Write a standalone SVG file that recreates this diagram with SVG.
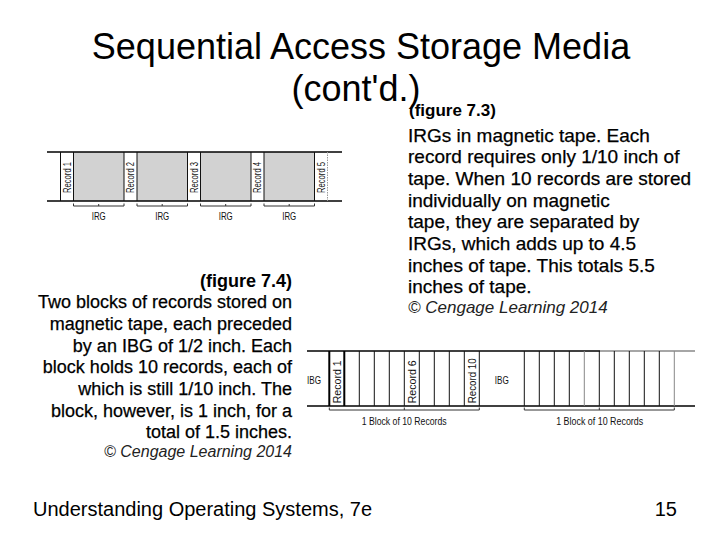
<svg xmlns="http://www.w3.org/2000/svg" width="720" height="540" viewBox="0 0 720 540">
<style>
.t{font-family:"Liberation Sans",Arial,sans-serif;fill:#000}
.title{font-size:36px}
.body{font-size:18px;stroke:#000;stroke-width:0.25}
.body19{font-size:19px;stroke:#000;stroke-width:0.25}
.fig{font-size:18px;font-weight:bold}
.cr{font-size:16px;font-style:italic;fill:#222}
.foot{font-size:20px}
.lab{font-family:"Liberation Sans",Arial,sans-serif;font-size:10.5px;fill:#111}
.ln{stroke:#000;stroke-width:1.5;fill:none}
.v{stroke:#111;stroke-width:1;fill:none}
.br{stroke:#333;stroke-width:1;fill:none}
.gray{fill:#d2d2d2}
</style>
<rect width="720" height="540" fill="#fff"/>
<g id="title">
<text class="t title" x="361" y="59" text-anchor="middle">Sequential Access Storage Media</text>
<text class="t title" x="356" y="101" text-anchor="middle">(cont'd.)</text>
</g>
<g id="caption-7-3">
<text class="t fig" x="409" y="116" style="font-size:17px">(figure 7.3)</text>
<text class="t body19" x="408" y="141.7">IRGs in magnetic tape. Each</text>
<text class="t body19" x="408" y="163.3">record requires only 1/10 inch of</text>
<text class="t body19" x="408" y="185">tape. When 10 records are stored</text>
<text class="t body19" x="408" y="206.7">individually on magnetic</text>
<text class="t body19" x="408" y="228.3">tape, they are separated by</text>
<text class="t body19" x="408" y="250">IRGs, which adds up to 4.5</text>
<text class="t body19" x="408" y="271.7">inches of tape. This totals 5.5</text>
<text class="t body19" x="408" y="293.3">inches of tape.</text>
<text class="t cr" x="408" y="313.3" style="font-size:17px">© Cengage Learning 2014</text>
</g>
<g id="caption-7-4" text-anchor="end">
<text class="t fig" x="292" y="286.7">(figure 7.4)</text>
<text class="t body" x="292" y="308.3">Two blocks of records stored on</text>
<text class="t body" x="292" y="330">magnetic tape, each preceded</text>
<text class="t body" x="292" y="351.7">by an IBG of 1/2 inch. Each</text>
<text class="t body" x="292" y="373.3">block holds 10 records, each of</text>
<text class="t body" x="292" y="395">which is still 1/10 inch. The</text>
<text class="t body" x="292" y="416.7">block, however, is 1 inch, for a</text>
<text class="t body" x="292" y="438.3">total of 1.5 inches.</text>
<text class="t cr" x="292" y="456.7">© Cengage Learning 2014</text>
</g>
<g id="footer">
<text class="t foot" x="33" y="516">Understanding Operating Systems, 7e</text>
<text class="t foot" x="677" y="516" text-anchor="end">15</text>
</g>
<g id="fig-7-3">
<rect class="gray" x="73.5" y="152" width="50.5" height="49"/>
<rect class="gray" x="137" y="152" width="50.5" height="49"/>
<rect class="gray" x="200.5" y="152" width="50.5" height="49"/>
<rect class="gray" x="264" y="152" width="50.5" height="49"/>
<line class="ln" x1="47" y1="152" x2="342" y2="152"/>
<line class="ln" x1="47" y1="201" x2="342" y2="201"/>
<path class="v" d="M60.5 152V201M73.5 152V201M124 152V201M137 152V201M187.5 152V201M200.5 152V201M251 152V201M264 152V201M314.5 152V201"/>
<line x1="327.5" y1="152" x2="327.5" y2="201" stroke="#999" stroke-width="1" stroke-dasharray="1.5 1"/>
<g class="lab" style="font-size:11px">
<text transform="translate(70.7,193) rotate(-90)" textLength="31" lengthAdjust="spacingAndGlyphs">Record 1</text>
<text transform="translate(134.2,193) rotate(-90)" textLength="31" lengthAdjust="spacingAndGlyphs">Record 2</text>
<text transform="translate(197.7,193) rotate(-90)" textLength="31" lengthAdjust="spacingAndGlyphs">Record 3</text>
<text transform="translate(261.2,193) rotate(-90)" textLength="31" lengthAdjust="spacingAndGlyphs">Record 4</text>
<text transform="translate(324.7,193) rotate(-90)" textLength="31" lengthAdjust="spacingAndGlyphs">Record 5</text>
</g>
<path class="br" d="M73.5 203.5V206H124V203.5M98.7 206V204M137 203.5V206H187.5V203.5M162.2 206V204M200.5 203.5V206H251V203.5M225.7 206V204M264 203.5V206H314.5V203.5M289.2 206V204"/>
<g class="lab" text-anchor="middle">
<text x="98.7" y="220" textLength="14" lengthAdjust="spacingAndGlyphs">IRG</text>
<text x="162.2" y="220" textLength="14" lengthAdjust="spacingAndGlyphs">IRG</text>
<text x="225.7" y="220" textLength="14" lengthAdjust="spacingAndGlyphs">IRG</text>
<text x="289.2" y="220" textLength="14" lengthAdjust="spacingAndGlyphs">IRG</text>
</g>
</g>
<g id="fig-7-4">
<line class="ln" x1="307" y1="351" x2="600" y2="351"/>
<line x1="600" y1="351" x2="695" y2="351" stroke="#888" stroke-width="1.5"/>
<line class="ln" x1="307" y1="406" x2="695" y2="406"/>
<path d="M329.3 351V406M344.3 351V406" stroke="#000" stroke-width="2" fill="none"/>
<path class="v" d="M359.3 351V406M374.3 351V406M389.3 351V406M404.3 351V406M419.3 351V406M434.3 351V406M449.3 351V406M464.3 351V406M479.3 351V406"/>
<path class="v" d="M524.3 351V406M539.3 351V406M554.3 351V406M569.3 351V406M599.3 351V406M614.3 351V406M629.3 351V406M644.3 351V406M659.3 351V406"/>
<path d="M584.3 351V406M674.3 351V406" stroke="#888" stroke-width="1" fill="none"/>
<g class="lab" style="font-size:11.5px">
<text transform="translate(340.9,403.3) rotate(-90)" textLength="43" lengthAdjust="spacingAndGlyphs">Record 1</text>
<text transform="translate(415.9,403.3) rotate(-90)" textLength="43" lengthAdjust="spacingAndGlyphs">Record 6</text>
<text transform="translate(475.9,403.3) rotate(-90)" textLength="45" lengthAdjust="spacingAndGlyphs">Record 10</text>
</g>
<g class="lab" style="font-size:11.5px" text-anchor="middle">
<text x="314" y="384" textLength="14" lengthAdjust="spacingAndGlyphs">IBG</text>
<text x="501.8" y="384" textLength="14" lengthAdjust="spacingAndGlyphs">IBG</text>
</g>
<path class="br" d="M329.3 407.5V410H479.3V407.5M404.3 410V407.5M524.3 407.5V410H674.3V407.5M599.3 410V407.5"/>
<g class="lab" style="font-size:10.5px" text-anchor="middle">
<text x="404.2" y="425" textLength="85" lengthAdjust="spacingAndGlyphs">1 Block of 10 Records</text>
<text x="599.7" y="425" textLength="87" lengthAdjust="spacingAndGlyphs">1 Block of 10 Records</text>
</g>
</g>
</svg>
